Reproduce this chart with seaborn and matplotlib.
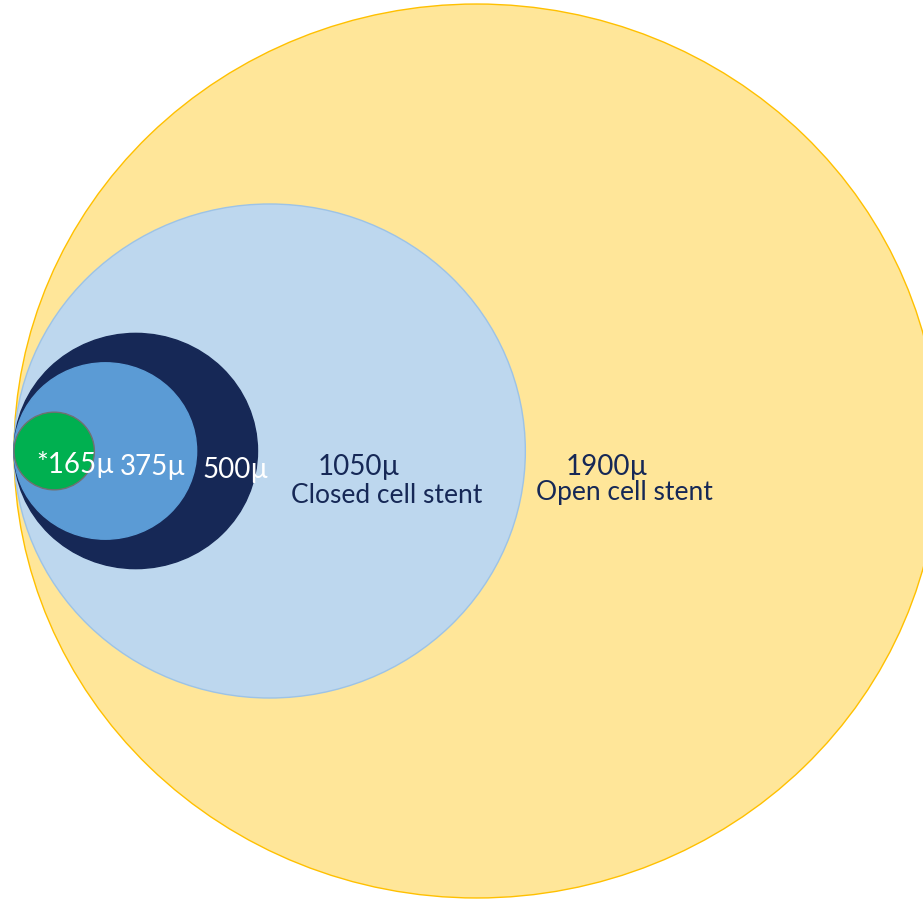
import matplotlib
matplotlib.use("Agg")
import matplotlib.pyplot as plt
from matplotlib.patches import Ellipse
import seaborn as sns

# Data: strut/cell sizes in microns (diameters), drawn largest first
labels = ["1900µ", "1050µ", "500µ", "375µ", "*165µ"]
diameters = [1900, 1050, 500, 375, 165]
sublabels = ["Open cell stent", "Closed cell stent", "", "", ""]
fills = ["#FFE699", "#BDD7EE", "#162856", "#5B9BD5", "#00B050"]
edges = ["#FFC000", "#9DC3E6", "#162856", "#5B9BD5", "#707070"]
text_colors = ["#162856", "#162856", "white", "white", "white"]

sns.set_theme(style="white")
plt.rcParams["font.family"] = ["Lato", "DejaVu Sans"]

W, H, DPI = 923, 899, 100
fig = plt.figure(figsize=(W / DPI, H / DPI), dpi=DPI)
ax = fig.add_axes([0, 0, 1, 1])

# scales (px per micron) and anchor of the common tangent point
sx, sy = 0.487, 0.4705
x0_px, y0_px = 14, 451
ax.set_xlim(-x0_px / sx, (W - x0_px) / sx)
ax.set_ylim(-(H - y0_px) / sy, y0_px / sy)
ax.axis("off")

for d, fc, ec in zip(diameters, fills, edges):
    ax.add_patch(Ellipse((d / 2, 0), d, d, facecolor=fc, edgecolor=ec, linewidth=1.0))

# label positions in pixels (centre x, centre y)
label_pos = [(607, 467), (359, 467), (236, 470), (153, 467), (75, 464)]
sub_pos = [(624, 493), (387, 495)]

for i, (lab, col) in enumerate(zip(labels, text_colors)):
    px, py = label_pos[i]
    ax.text(px / W, 1 - py / H, lab, transform=ax.transAxes, ha="center", va="center",
            color=col, fontsize=20)
    if sublabels[i]:
        qx, qy = sub_pos[i]
        ax.text(qx / W, 1 - qy / H, sublabels[i], transform=ax.transAxes, ha="center",
                va="center", color=col, fontsize=19)

fig.savefig("out.png", dpi=DPI)
